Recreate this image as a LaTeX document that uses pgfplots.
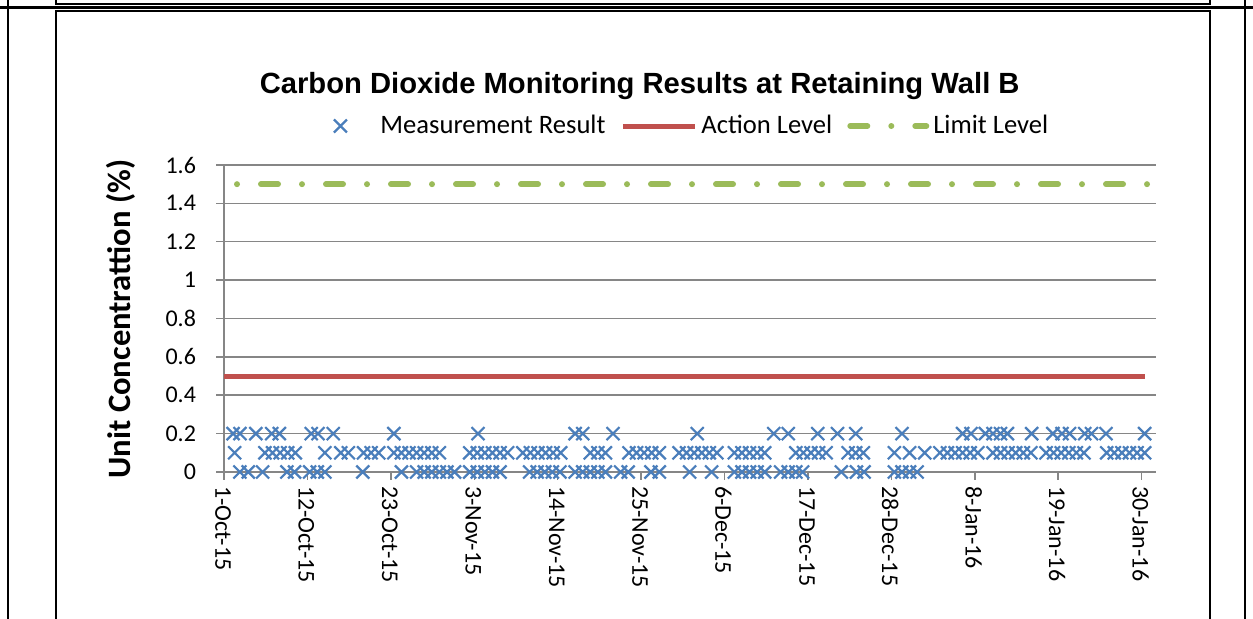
\documentclass[border=0pt]{standalone}
\usepackage{fontspec}
\setmainfont{Carlito}
\newfontfamily\arialfont{Liberation Sans}
\usepackage{pgfplots}
\usepackage{pgfplotstable}
\pgfplotsset{compat=1.18}
\definecolor{mblue}{HTML}{4A7EBB}
\definecolor{actred}{HTML}{C0504D}
\definecolor{limgreen}{HTML}{9BBB59}
\definecolor{gridgray}{HTML}{868686}
\pgfplotsset{
  markleg/.style={legend image code/.code={\path[draw=none] (0pt,0pt) -- (36pt,0pt); \draw[##1] plot coordinates {(18pt,0pt)};}},
  lineleg/.style={legend image code/.code={\draw[##1] (0pt,0pt) -- (36pt,0pt);}},
  limleg/.style={legend image code/.code={\draw[##1, dash phase=0pt] (1.5pt,0pt) -- (39.5pt,0pt);}},
}

% day index: 0 = 1-Oct-15
\pgfplotstableread{
d v
1.2 0.2
2.1 0.2
4.2 0.2
6.3 0.2
7.3 0.2
11.5 0.2
12.4 0.2
14.4 0.2
22.4 0.2
33.5 0.2
46.3 0.2
47.3 0.2
51.3 0.2
62.4 0.2
72.5 0.2
74.4 0.2
78.3 0.2
80.9 0.2
83.3 0.2
89.4 0.2
97.4 0.2
98.5 0.2
100.4 0.2
101.4 0.2
102.4 0.2
103.3 0.2
106.5 0.2
109.3 0.2
110.5 0.2
111.5 0.2
113.5 0.2
114.4 0.2
116.3 0.2
121.4 0.2
1.4 0.1
5.4 0.1
6.4 0.1
7.4 0.1
8.4 0.1
9.4 0.1
13.3 0.1
15.4 0.1
16.4 0.1
18.4 0.1
19.4 0.1
20.4 0.1
22.4 0.1
23.4 0.1
24.4 0.1
25.4 0.1
26.4 0.1
27.4 0.1
28.4 0.1
32.4 0.1
33.4 0.1
34.4 0.1
35.4 0.1
36.4 0.1
37.4 0.1
39.4 0.1
40.4 0.1
41.4 0.1
42.4 0.1
43.4 0.1
44.4 0.1
48.3 0.1
49.3 0.1
50.3 0.1
53.4 0.1
54.4 0.1
55.4 0.1
56.4 0.1
57.4 0.1
60.0 0.1
61.0 0.1
62.0 0.1
63.0 0.1
64.0 0.1
65.0 0.1
67.3 0.1
68.3 0.1
69.3 0.1
70.3 0.1
71.3 0.1
75.4 0.1
76.4 0.1
77.4 0.1
78.4 0.1
79.4 0.1
82.3 0.1
83.3 0.1
84.3 0.1
88.4 0.1
90.4 0.1
92.4 0.1
94.4 0.1
95.4 0.1
96.4 0.1
97.4 0.1
98.4 0.1
99.4 0.1
101.4 0.1
102.4 0.1
103.4 0.1
104.4 0.1
105.4 0.1
106.4 0.1
108.4 0.1
109.4 0.1
110.4 0.1
111.4 0.1
112.4 0.1
113.4 0.1
116.4 0.1
117.4 0.1
118.4 0.1
119.4 0.1
120.4 0.1
121.4 0.1
2.1 0
3.2 0
5.1 0
8.3 0
9.3 0
11.3 0
12.3 0
13.3 0
18.3 0
23.4 0
25.4 0
26.4 0
27.4 0
28.4 0
29.4 0
30.4 0
32.4 0
33.4 0
34.4 0
35.4 0
36.4 0
40.3 0
41.3 0
42.3 0
43.3 0
44.3 0
46.3 0
47.3 0
48.3 0
49.3 0
50.3 0
52.3 0
53.3 0
56.3 0
57.4 0
61.4 0
64.3 0
67.3 0
68.3 0
69.3 0
70.3 0
71.3 0
73.4 0
74.4 0
75.4 0
76.3 0
81.4 0
83.4 0
84.4 0
88.4 0
89.4 0
90.4 0
91.4 0
}\measdata

\begin{document}
\begin{tikzpicture}[x=0.5pt,y=0.5pt]
\path[use as bounding box] (0,0) rectangle (1253,619);
% page frame
\draw[line width=0.6pt] (56,619) -- (56,615) -- (1210,615) -- (1210,619);
\draw[line width=1.5pt] (0,611) -- (1253,611);
\draw[line width=1pt] (8,619) -- (8,0);
\draw[line width=1pt] (1245,619) -- (1245,0);
\draw[line width=0.7pt] (56,0) -- (56,608) -- (1210,608) -- (1210,0);
\begin{axis}[
  at={(112pt,73.5pt)}, anchor=south west,
  scale only axis, width=466pt, height=153.5pt,
  xmin=0, xmax=122.9, ymin=0, ymax=1.6,
  axis x line*=bottom, axis y line*=left,
  axis line style={gridgray, line width=0.75pt},
  tick style={gridgray, line width=0.75pt},
  tick align=outside, major tick length=4pt,
  ymajorgrids, grid style={gridgray, line width=0.75pt},
  xtick={0,11,22,33,44,55,66,77,88,99,110,121},
  xticklabels={1-Oct-15,12-Oct-15,23-Oct-15,3-Nov-15,14-Nov-15,25-Nov-15,6-Dec-15,17-Dec-15,28-Dec-15,8-Jan-16,19-Jan-16,30-Jan-16},
  ytick={0,0.2,0.4,0.6,0.8,1,1.2,1.4,1.6},
  yticklabels={0,0.2,0.4,0.6,0.8,1,1.2,1.4,1.6},
  xticklabel style={rotate=-90, anchor=west, font=\fontsize{12}{12}\selectfont, xshift=-0.5pt, yshift=-0.5pt},
  yticklabel style={font=\fontsize{12}{12}\selectfont, xshift=-6.5pt},
  every axis title shift=0pt,
  title={Carbon Dioxide Monitoring Results at Retaining Wall B},
  title style={at={(0.446,1.258)}, anchor=center, font=\arialfont\bfseries\fontsize{14.6}{14.6}\selectfont},
  ylabel={Unit Concentrattion (\%)},
  ylabel style={at={(-0.1105,0.498)}, anchor=center, font=\bfseries\fontsize{16.3}{16.3}\selectfont},
  legend columns=3,
  legend style={at={(0.4875,1.127)}, anchor=center, draw=none, fill=none,
    font=\fontsize{13.3}{13.3}\selectfont,
    nodes={inner xsep=2pt},
    /tikz/every even column/.append style={column sep=5.5pt}},
]
\addplot[only marks, mark=x, mark size=4.6pt, mblue, mark options={line width=1.1pt}, markleg]
  table[x=d, y=v] {\measdata};
\addlegendentry{Measurement Result}
\addplot[actred, line width=2.5pt, no marks, lineleg]
  coordinates {(0,0.5) (121.4,0.5)};
\addlegendentry{Action Level}
\addplot[limgreen, line width=3pt, no marks, line cap=round,
  dash pattern=on 8.5pt off 12pt on 0pt off 12pt, dash phase=14pt, limleg]
  coordinates {(0,1.5) (122.6,1.5)};
\addlegendentry{Limit Level}
\end{axis}
\end{tikzpicture}
\end{document}
